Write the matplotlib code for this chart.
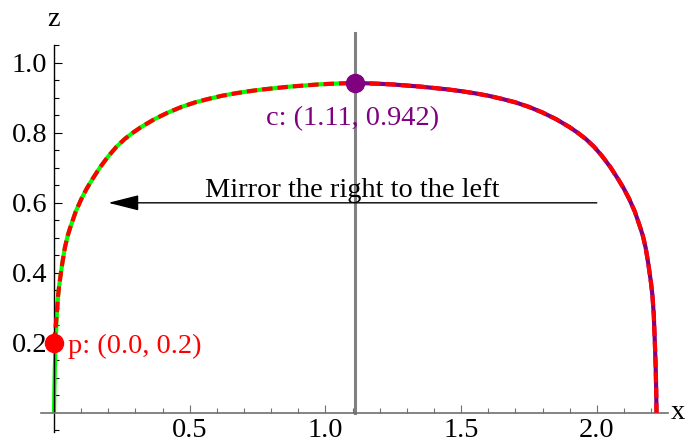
import numpy as np
import matplotlib
matplotlib.use("Agg")
from matplotlib import pyplot as plt
from matplotlib.ticker import FixedLocator, FormatStrFormatter

plt.rcParams['font.family'] = ['Liberation Serif', 'DejaVu Serif']

# Right half of the profile, from the crest c down to the axis
right_x = [1.11, 1.15, 1.20, 1.25, 1.30, 1.35, 1.40, 1.45, 1.50, 1.55, 1.60,
           1.65, 1.70, 1.75, 1.80, 1.85, 1.90, 1.93, 1.96, 1.99, 2.02, 2.05,
           2.08, 2.10, 2.12, 2.14, 2.16, 2.17, 2.18, 2.19, 2.20, 2.205, 2.21,
           2.214, 2.217, 2.219, 2.22]
right_z = [0.942, 0.9415, 0.940, 0.938, 0.935, 0.932, 0.928, 0.924, 0.919,
           0.913, 0.906, 0.897, 0.887, 0.874, 0.858, 0.839, 0.816, 0.800,
           0.782, 0.760, 0.733, 0.702, 0.666, 0.640, 0.610, 0.575, 0.530,
           0.505, 0.472, 0.425, 0.370, 0.335, 0.280, 0.200, 0.130, 0.060, 0.0]

p_point = (0.0, 0.2)
c_point = (1.11, 0.942)

x_major = [0.5, 1.0, 1.5, 2.0]
z_major = [0.2, 0.4, 0.6, 0.8, 1.0]

fs = 20.4

# left half is the right half mirrored about the crest
right_x = np.array(right_x)
right_z = np.array(right_z)
left_x = 2 * c_point[0] - right_x
left_z = right_z

# full computed curve starting at p
keep = left_z > p_point[1]
full_x = np.concatenate([[p_point[0]], left_x[keep][::-1], right_x[1:]])
full_z = np.concatenate([[p_point[1]], left_z[keep][::-1], right_z[1:]])

fig = plt.figure(figsize=(6.95, 4.45), dpi=100)
ax = fig.add_axes([0.059, 0.029, 0.902, 0.870])
ax.set_xlim(-0.048, 2.262)
ax.set_ylim(-0.055, 1.051)

ax.plot([c_point[0], c_point[0]], [0, 1.085], color='#808080', lw=2.2,
        clip_on=False, zorder=1)
ax.plot(left_x, left_z, color='#00ff00', lw=3, zorder=2, solid_capstyle='butt')
ax.plot(right_x, right_z, color='#800080', lw=3, zorder=2, solid_capstyle='butt')
ax.plot(full_x, full_z, color='red', lw=3, ls=(0, (2.5, 1.2)), zorder=3,
        dash_capstyle='butt')

ax.plot(*p_point, 'o', color='red', ms=13, zorder=5, clip_on=False)
ax.plot(*c_point, 'o', color='#800080', ms=13, zorder=5)

ax.text(0.051, 0.17, 'p: (0.0, 0.2)', color='red', fontsize=fs,
        ha='left', va='baseline')
ax.text(1.10, 0.822, 'c: (1.11, 0.942)', color='#800080', fontsize=fs,
        ha='center', va='baseline')
ax.text(1.10, 0.617, 'Mirror the right to the left', color='black',
        fontsize=fs, ha='center', va='baseline')
ax.annotate('', xy=(0.2, 0.6), xytext=(2.0, 0.6),
            arrowprops=dict(arrowstyle='-|>,head_length=0.95,head_width=0.24',
                            mutation_scale=20, color='black', lw=1,
                            shrinkA=0, shrinkB=0))

# axes through the origin
for side in ['top', 'right']:
    ax.spines[side].set_visible(False)
ax.spines['left'].set_position(('data', 0))
ax.spines['bottom'].set_position(('data', 0))
ax.spines['left'].set_color('black')
ax.spines['bottom'].set_color('#707070')
ax.spines['left'].set_linewidth(1)
ax.spines['bottom'].set_linewidth(1.2)

ax.xaxis.set_major_locator(FixedLocator(x_major))
ax.xaxis.set_minor_locator(FixedLocator([t / 10 for t in range(1, 23) if t % 5]))
ax.yaxis.set_major_locator(FixedLocator(z_major))
ax.yaxis.set_minor_locator(FixedLocator([t / 20 for t in range(-1, 22) if t % 4]))
ax.xaxis.set_major_formatter(FormatStrFormatter('%.1f'))
ax.yaxis.set_major_formatter(FormatStrFormatter('%.1f'))

ax.tick_params(which='both', direction='in', labelsize=fs)
ax.tick_params(axis='x', which='both', color='#707070', pad=4)
ax.tick_params(axis='y', which='both', color='black', pad=5)
ax.tick_params(which='major', length=6, width=0.8)
ax.tick_params(which='minor', length=3.5, width=0.8)

ax.text(0, 1.125, 'z', fontsize=fs, ha='center', va='center', clip_on=False)
ax.text(2.30, 0, 'x', fontsize=fs, ha='center', va='center', clip_on=False)

fig.savefig('out.png', dpi=100)
